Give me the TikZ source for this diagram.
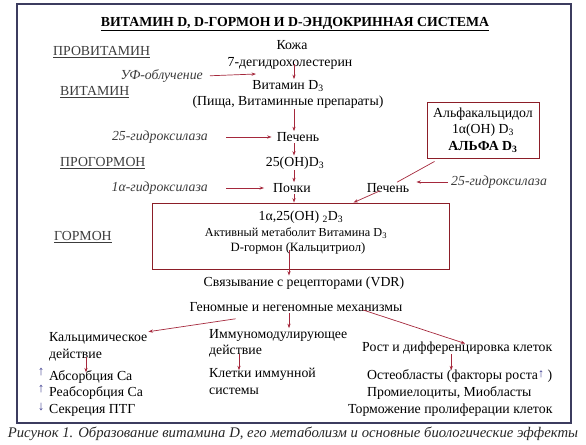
\documentclass[tikz,border=0pt]{standalone}
\usepackage{fontspec}
\setmainfont{Liberation Serif}
\usepackage{tikz}
\usetikzlibrary{calc, positioning, arrows.meta}
\definecolor{arrred}{RGB}{165,40,60}
\definecolor{boxred}{RGB}{140,30,40}
\definecolor{framenavy}{RGB}{60,60,95}
\definecolor{markblue}{RGB}{55,55,140}
\definecolor{labgray}{RGB}{60,60,60}
\newcommand\stagelabel[3]{\node[stage] (#1) at (#2) {\underline{#3}};}
\newcommand\lo[1]{\textsubscript{#1}}

\begin{document}
\begin{tikzpicture}[x=1bp, y=-1bp,
	every node/.style={font=\fontsize{13.8bp}{16.5bp}\selectfont, inner sep=1bp},
	stage/.style={anchor=west, text=labgray},
	enz/.style={text=labgray, font=\fontsize{13.8bp}{16.5bp}\selectfont\itshape},
	arr/.style={-{Stealth[length=4.5bp,width=3.2bp]}, draw=arrred, line width=0.7bp},
	link/.style={draw=arrred, line width=0.7bp},
	redbox/.style={draw=boxred, line width=0.9bp, inner sep=0pt},
	bluemark/.style={text=markblue, font=\fontsize{13bp}{13bp}\selectfont},
	frame/.style={draw=framenavy, line width=1.4bp}]
	\useasboundingbox (0,0) rectangle (586,445);
	\draw[frame] (17,4) rectangle (571,423);
	\node[font=\fontsize{13.8bp}{16.5bp}\selectfont\bfseries] (ttl) at (295,24) {\underline{ВИТАМИН D, D-ГОРМОН И D-ЭНДОКРИННАЯ СИСТЕМА}};
	\stagelabel{provit}{52,52}{ПРОВИТАМИН}
	\stagelabel{vit}{59,92}{ВИТАМИН}
	\stagelabel{progorm}{59,163}{ПРОГОРМОН}
	\stagelabel{gorm}{53,237}{ГОРМОН}
	% center column
	\coordinate (col) at (294,0);
	\coordinate (col2) at (289,0);
	\node (skin) at (292,45) {Кожа};
	\node (dhc) at (290,63) {7-дегидрохолестерин};
	\node (vitd) at (288,86) {Витамин D\lo{3}};
	\node (food) at (288,102) {(Пища, Витаминные препараты)};
	\node (liver) at (298,137) {Печень};
	\node (ohd) at (295,163) {25(OH)D\lo{3}};
	\node (kidney) at (292,188) {Почки};
	\node (liverb) at (388,188) {Печень};
	\node[enz, anchor=east] (uv) at (204,76) {УФ-облучение};
	\node[enz, anchor=east] (hydra) at (209,137) {25-гидроксилаза};
	\node[enz, anchor=east] (hydrb) at (209,188) {1α-гидроксилаза};
	\node[enz, anchor=west] (hydrc) at (450,182) {25-гидроксилаза};
	\coordinate (uvend) at (256,74);
	\node[redbox, minimum width=112bp, minimum height=56bp, align=center] (alfa) at (483,130) {Альфакальцидол\\1α(OH) D\lo{3}\\\textbf{АЛЬФА D\lo{3}}};
	\node[redbox, minimum width=297bp, minimum height=66bp] (hbox) at (301,236) {};
	\node (hone) at (301,217) {1α,25(OH) \lo{2}D\lo{3}};
	\node[font=\fontsize{12.2bp}{14bp}\selectfont] (htwo) at (296,233) {Активный метаболит Витамина D\lo{3}};
	\node[font=\fontsize{12.7bp}{15bp}\selectfont] (hthree) at (298,248) {D-гормон (Кальцитриол)};
	\draw[arr, shorten <=6bp] (uv.east) -- (uvend);
	\draw[arr] ([yshift=6bp]dhc.south -| col) -- (vitd.north -| col);
	\draw[arr] (food.south -| col) -- (liver.north -| col);
	\draw[arr, shorten <=17bp, shorten >=4bp] (hydra.east) -- (liver.west);
	\draw[arr] (liver.south -| col) -- (ohd.north -| col);
	\draw[arr] (ohd.south -| col) -- (kidney.north -| col);
	\draw[arr, shorten <=17bp, shorten >=8bp] (hydrb.east) -- (kidney.west);
	\draw[arr] (kidney.south -| col) -- (hbox.north -| col);
	\draw[arr, shorten <=2bp, shorten >=6bp] (hydrc.west) -- (liverb.east |- hydrc.west);
	\draw[link] ($(alfa.south west)+(8,3)$) -- ([xshift=9bp]liverb.north);
	\draw[arr] ([xshift=-8bp,yshift=3bp]liverb.south) -- ([xshift=-12bp]hbox.north -| liverb.west);
	% effects
	\node (vdr) at (304,283) {Связывание с рецепторами (VDR)};
	\node (genom) at (296,307) {Геномные и негеномные механизмы};
	\node[anchor=west, align=left] (kalc) at (48,347) {Кальцимическое\\действие};
	\node[anchor=west] (absca) at (48,377) {Абсорбция Са};
	\node[anchor=west] (reabs) at (48,393) {Реабсорбция Са};
	\node[anchor=west] (secr) at (48,410) {Секреция ПТГ};
	\node[bluemark] (mup) at (41,372) {↑};
	\node[bluemark] (mupb) at (41,389) {↑};
	\node[bluemark] (mdown) at (41,407) {↓};
	\node[anchor=west, align=left] (immun) at (208,343.5) {Иммуномодулирующее\\действие};
	\node[anchor=west, align=left] (cells) at (208,381.5) {Клетки иммунной\\системы};
	\node[anchor=west] (rost) at (361,348) {Рост и дифференцировка клеток};
	\node[anchor=west] (osteo) at (366,376) {Остеобласты (факторы роста{\color{markblue}\fontsize{12bp}{12bp}\selectfont\raisebox{2bp}{↑}} )};
	\node[anchor=west] (promy) at (366,393) {Промиелоциты, Миобласты};
	\node[anchor=west] (torm) at (347,410) {Торможение пролиферации клеток};
	\draw[arr] ([yshift=5bp]hthree.south -| col2) -- (vdr.north -| col2);
	\draw[arr] ($(genom.south west)+(47,6)$) -- (kalc.north east);
	\draw[arr] (genom.south -| col2) -- (immun.north -| col2);
	\draw[arr] ($(genom.south east)+(-41,-3)$) -- ([xshift=8bp,yshift=-3bp]rost.north);
	\draw[arr] ($(kalc.south west)+(38,-5)$) -- ($(absca.north west)+(38,3)$);
	\draw[arr] ($(immun.south west)+(31,-5)$) -- ($(cells.north west)+(31,3)$);
	\draw[arr] ([xshift=-6bp,yshift=1bp]rost.south) -- ([xshift=-6bp,yshift=-2bp]rost.south |- osteo.north);
	\node[font=\fontsize{14.7bp}{16.5bp}\selectfont\itshape, text=black!85] (capt) at (293,434) {Рисунок 1. Образование витамина D, его метаболизм и основные биологические эффекты};
\end{tikzpicture}
\end{document}
